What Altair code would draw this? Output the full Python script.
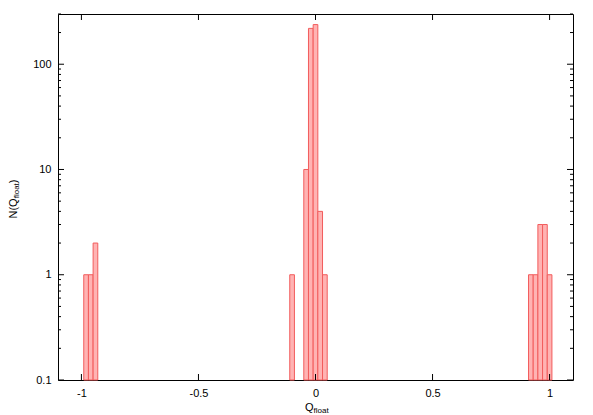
import altair as alt
import pandas as pd

# ---- data ----
bin_centers = [-0.98, -0.96, -0.94, -0.10, -0.04, -0.02, 0.00, 0.02, 0.04, 0.92, 0.94, 0.96, 0.98, 1.00]
bin_counts = [1, 1, 2, 1, 10, 219, 238, 4, 1, 1, 1, 3, 3, 1]
bin_width = 0.02

x_ticks = [-1, -0.5, 0, 0.5, 1]
y_major = [0.1, 1, 10, 100]
y_minor = [0.2, 0.3, 0.4, 0.5, 0.6, 0.7, 0.8, 0.9,
           2, 3, 4, 5, 6, 7, 8, 9,
           20, 30, 40, 50, 60, 70, 80, 90, 200, 300]

x_domain = [-1.1, 1.1]
y_domain = [0.1, 300]

W, H = 515, 366
FONT = "Liberation Sans"

df = pd.DataFrame({"c": bin_centers, "n": bin_counts})
df["x0"] = df["c"] - bin_width / 2
df["x1"] = df["c"] + bin_width / 2
df["base"] = y_domain[0]

xs = alt.Scale(domain=x_domain, nice=False, zero=False)
ys = alt.Scale(type="log", domain=y_domain, nice=False)

bars = alt.Chart(df).mark_bar(
    fill="#ffb3b3", stroke="#f25c5c", strokeWidth=1, opacity=1
).encode(
    x=alt.X("x0:Q", scale=xs,
            axis=alt.Axis(values=x_ticks, labelExpr="'' + datum.value", title=None,
                          domain=False, ticks=False, grid=False, labelFont=FONT,
                          labelFontSize=11, labelColor="black", labelPadding=7)),
    x2="x1:Q",
    y=alt.Y("n:Q", scale=ys,
            axis=alt.Axis(values=y_major, labelExpr="'' + datum.value", title=None,
                          domain=False, ticks=False, grid=False, labelFont=FONT,
                          labelFontSize=11, labelColor="black", labelPadding=7)),
    y2="base:Q",
)

ymaj = pd.DataFrame({"v": y_major})
ymin = pd.DataFrame({"v": y_minor})
xt = pd.DataFrame({"v": x_ticks})

def yrule(d, x0, x1):
    return alt.Chart(d).mark_rule(color="black", strokeWidth=1).encode(
        y=alt.Y("v:Q", scale=ys), x=alt.value(x0), x2=alt.value(x1))

def xrule(d, y0, y1):
    return alt.Chart(d).mark_rule(color="black", strokeWidth=1).encode(
        x=alt.X("v:Q", scale=xs), y=alt.value(y0), y2=alt.value(y1))

ticks = [
    yrule(ymaj, 0, 6), yrule(ymaj, W, W - 6),
    yrule(ymin, 0, 3), yrule(ymin, W, W - 3),
    xrule(xt, H, H - 6), xrule(xt, 0, 6),
]

one = pd.DataFrame({"k": [0]})
def txt(s, x, y, size, angle=0, align="left"):
    return alt.Chart(one).mark_text(
        text=s, font=FONT, fontSize=size, color="black", angle=angle,
        align=align, baseline="middle"
    ).encode(x=alt.value(x), y=alt.value(y))

titles = [
    txt("Q", 247, 393.5, 11),
    txt("float", 255.5, 396.5, 8),
    txt("N(Q", -44, 204.5, 11, angle=270),
    txt("float", -41, 184.3, 8, angle=270),
    txt(")", -44, 169.3, 11, angle=270),
]

chart = alt.layer(bars, *ticks, *titles).properties(
    width=W, height=H,
    autosize=alt.AutoSizeParams(type="none"),
    padding={"left": 50, "top": 6, "right": 12, "bottom": 35},
).configure_view(stroke="black", strokeWidth=1)

chart.save("out.html", embed_options={"renderer": "svg", "actions": False})
